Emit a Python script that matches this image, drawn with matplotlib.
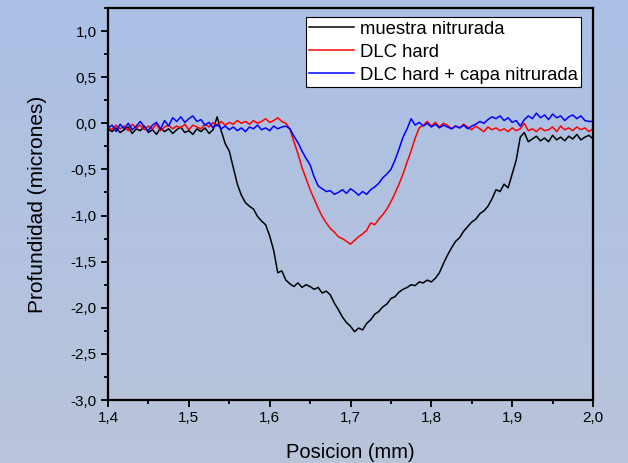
import matplotlib
matplotlib.use('Agg')
import matplotlib.pyplot as plt
import numpy as np
from matplotlib.ticker import MultipleLocator, FuncFormatter

plt.rcParams['font.family'] = ['Liberation Sans', 'DejaVu Sans']

# scan positions (mm), one sample every 5 microns
posicion = np.round(np.arange(1.4, 2.0001, 0.005), 3)

muestra_nitrurada = [
    -0.06, -0.09, -0.05, -0.10, -0.07, -0.04, -0.11, -0.06, -0.08, -0.03,
    -0.10, -0.07, -0.12, -0.05, -0.09, -0.06, -0.11, -0.07, -0.04, -0.10,
    -0.08, -0.12, -0.06, -0.09, -0.05, -0.11, -0.07, 0.07, -0.08, -0.22,
    -0.30, -0.48, -0.66, -0.78, -0.86, -0.90, -0.93, -1.01, -1.06, -1.10,
    -1.22, -1.38, -1.62, -1.60, -1.70, -1.74, -1.77, -1.73, -1.78, -1.75,
    -1.77, -1.80, -1.78, -1.84, -1.82, -1.86, -1.95, -2.02, -2.10, -2.16,
    -2.20, -2.26, -2.22, -2.24, -2.17, -2.13, -2.07, -2.04, -1.99, -1.96,
    -1.90, -1.88, -1.83, -1.80, -1.78, -1.75, -1.76, -1.72, -1.73, -1.70,
    -1.72, -1.68, -1.62, -1.52, -1.43, -1.35, -1.28, -1.24, -1.17, -1.12,
    -1.07, -1.04, -0.98, -0.95, -0.90, -0.82, -0.72, -0.74, -0.66, -0.70,
    -0.55, -0.40, -0.15, -0.10, -0.20, -0.17, -0.14, -0.19, -0.16, -0.20,
    -0.13, -0.18, -0.15, -0.19, -0.14, -0.17, -0.12, -0.18, -0.15, -0.13,
    -0.17,
]

dlc_hard = [
    -0.04, -0.07, -0.02, -0.06, -0.03, -0.08, -0.01, -0.05, -0.02, -0.07,
    -0.03, -0.06, -0.01, -0.08, -0.04, -0.02, -0.06, -0.03, -0.05, -0.01,
    -0.07, -0.02, -0.04, -0.06, -0.01, -0.04, 0.01, -0.03, 0.02, -0.02,
    0.01, -0.01, 0.03, 0.00, 0.02, -0.01, 0.03, 0.00, 0.02, 0.05,
    0.01, 0.03, 0.06, 0.02, 0.00, -0.06, -0.20, -0.33, -0.48, -0.60,
    -0.72, -0.82, -0.92, -1.01, -1.08, -1.14, -1.18, -1.23, -1.25, -1.28,
    -1.31, -1.27, -1.23, -1.20, -1.16, -1.08, -1.10, -1.04, -0.99, -0.93,
    -0.85, -0.76, -0.66, -0.55, -0.42, -0.30, -0.16, -0.05, -0.02, 0.02,
    -0.03, 0.01, -0.04, 0.00, -0.02, -0.06, -0.03, -0.05, -0.01, -0.04,
    -0.07, -0.03, -0.06, -0.09, -0.04, -0.07, -0.05, -0.08, -0.06, -0.09,
    -0.05, -0.08, -0.06, 0.00, -0.08, -0.06, -0.09, -0.05, -0.08, -0.07,
    -0.04, -0.09, -0.03, -0.07, -0.05, -0.08, -0.04, -0.07, -0.05, -0.09,
    -0.06,
]

dlc_hard_capa = [
    -0.05, -0.02, -0.09, -0.01, -0.06, 0.00, -0.07, -0.03, 0.02, -0.04,
    -0.08, -0.02, 0.01, -0.06, 0.03, -0.03, 0.06, 0.02, 0.07, 0.01,
    0.05, 0.08, 0.02, 0.04, -0.02, 0.01, -0.05, -0.01, -0.06, -0.03,
    -0.07, -0.04, -0.08, -0.05, -0.09, -0.04, -0.06, -0.02, -0.07, -0.05,
    -0.08, -0.03, -0.06, -0.04, -0.03, -0.06, -0.14, -0.21, -0.30, -0.38,
    -0.45, -0.58, -0.68, -0.71, -0.74, -0.73, -0.77, -0.75, -0.72, -0.76,
    -0.71, -0.74, -0.78, -0.74, -0.77, -0.72, -0.69, -0.65, -0.59, -0.55,
    -0.50, -0.40, -0.28, -0.15, -0.06, 0.05, -0.02, 0.01, -0.03, 0.00,
    -0.04, -0.01, -0.05, -0.02, -0.04, -0.06, -0.03, -0.05, -0.02, -0.06,
    -0.03, -0.01, 0.02, 0.00, 0.04, 0.07, 0.05, 0.08, 0.03, 0.06,
    0.01, 0.03, -0.03, 0.04, 0.08, 0.05, 0.11, 0.06, 0.09, 0.04,
    0.10, 0.06, 0.08, 0.03, 0.07, 0.09, 0.05, 0.08, 0.03, 0.02,
    0.02,
]

series = [
    (muestra_nitrurada, 'black', 'muestra nitrurada'),
    (dlc_hard, 'red', 'DLC hard'),
    (dlc_hard_capa, 'blue', 'DLC hard + capa nitrurada'),
]

fig = plt.figure(figsize=(6.28, 4.63), dpi=100)

# vertical background gradient
bg = fig.add_axes([0, 0, 1, 1], zorder=-1)
top = np.array([170, 192, 229]) / 255
bottom = np.array([186, 196, 218]) / 255
t = np.linspace(0, 1, 256)[:, None, None]
grad = top * (1 - t) + bottom * t
bg.imshow(grad, aspect='auto', extent=[0, 1, 0, 1])
bg.axis('off')

ax = fig.add_axes([108 / 628, 1 - 400 / 463, 485 / 628, 392 / 463])
ax.patch.set_alpha(0)

for vals, color, label in series:
    ax.plot(posicion, vals, color=color, lw=1.1, label=label)

ax.set_xlim(1.4, 2.0)
ax.set_ylim(-3.0, 1.25)
ax.xaxis.set_major_locator(MultipleLocator(0.1))
ax.xaxis.set_minor_locator(MultipleLocator(0.05))
ax.yaxis.set_major_locator(MultipleLocator(0.5))
ax.yaxis.set_minor_locator(MultipleLocator(0.25))
comma = FuncFormatter(lambda v, p: f'{v:.1f}'.replace('.', ','))
ax.xaxis.set_major_formatter(comma)
ax.yaxis.set_major_formatter(comma)
ax.tick_params(which='both', direction='out', width=1.3, labelsize=11, pad=3)
ax.tick_params(which='major', length=5)
ax.tick_params(which='minor', length=3)
for sp in ax.spines.values():
    sp.set_linewidth(1.6)

ax.set_xlabel('Posicion (mm)', fontsize=14.5, labelpad=13)
ax.set_ylabel('Profundidad (micrones)', fontsize=15, labelpad=17)

leg = ax.legend(loc='upper right', bbox_to_anchor=(0.976, 0.977), fontsize=13.3,
                fancybox=False, framealpha=1, edgecolor='black',
                handlelength=2.4, handletextpad=0.33, borderpad=0.2,
                labelspacing=0.32, borderaxespad=0)
leg.get_frame().set_linewidth(0.8)

fig.savefig('out.png', dpi=100)
